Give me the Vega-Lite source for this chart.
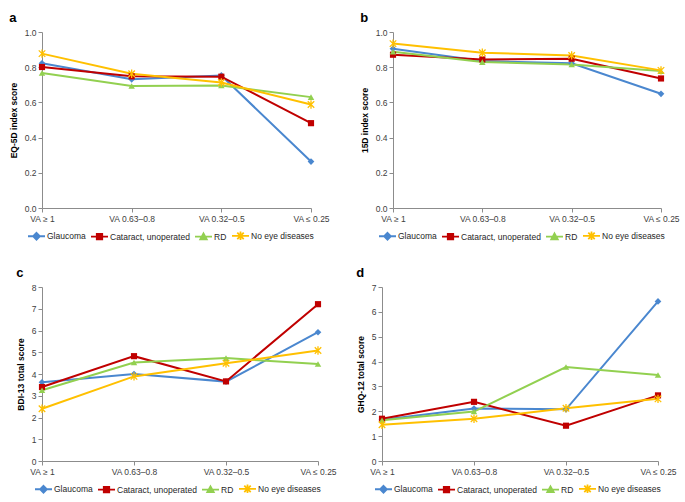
{
  "$schema": "https://vega.github.io/schema/vega-lite/v6.json",
  "padding": {"left": 9, "top": 12, "right": 3, "bottom": 5},
  "background": "white",
  "config": {
    "font": "Liberation Sans",
    "view": {"stroke": null},
    "title": {"fontSize": 13, "fontWeight": "bold", "anchor": "start", "frame": "bounds", "offset": 3, "color": "#000000"},
    "axis": {"labelFont": "Liberation Sans", "labelFontSize": 8.5, "labelColor": "#404040", "titleFont": "Liberation Sans", "titleFontSize": 8.5, "titleFontWeight": "bold", "titleColor": "#000000", "domainColor": "#8c8c8c", "tickColor": "#8c8c8c", "tickSize": 4, "grid": false, "labelPadding": 2},
    "legend": {"labelFont": "Liberation Sans", "labelFontSize": 8.5, "labelColor": "#262626", "title": null, "orient": "none", "direction": "horizontal", "columnPadding": 1, "labelOffset": 1, "symbolSize": 289}
  },
  "datasets": {
    "eq5d": [
      {"cat": "VA ≥ 1", "series": "Glaucoma", "value": 0.822},
      {"cat": "VA 0.63–0.8", "series": "Glaucoma", "value": 0.731},
      {"cat": "VA 0.32–0.5", "series": "Glaucoma", "value": 0.753},
      {"cat": "VA ≤ 0.25", "series": "Glaucoma", "value": 0.264},
      {"cat": "VA ≥ 1", "series": "Cataract, unoperated", "value": 0.801},
      {"cat": "VA 0.63–0.8", "series": "Cataract, unoperated", "value": 0.748},
      {"cat": "VA 0.32–0.5", "series": "Cataract, unoperated", "value": 0.746},
      {"cat": "VA ≤ 0.25", "series": "Cataract, unoperated", "value": 0.482},
      {"cat": "VA ≥ 1", "series": "RD", "value": 0.767},
      {"cat": "VA 0.63–0.8", "series": "RD", "value": 0.693},
      {"cat": "VA 0.32–0.5", "series": "RD", "value": 0.696},
      {"cat": "VA ≤ 0.25", "series": "RD", "value": 0.630},
      {"cat": "VA ≥ 1", "series": "No eye diseases", "value": 0.877},
      {"cat": "VA 0.63–0.8", "series": "No eye diseases", "value": 0.763},
      {"cat": "VA 0.32–0.5", "series": "No eye diseases", "value": 0.713},
      {"cat": "VA ≤ 0.25", "series": "No eye diseases", "value": 0.588}
    ],
    "d15": [
      {"cat": "VA ≥ 1", "series": "Glaucoma", "value": 0.905},
      {"cat": "VA 0.63–0.8", "series": "Glaucoma", "value": 0.835},
      {"cat": "VA 0.32–0.5", "series": "Glaucoma", "value": 0.822},
      {"cat": "VA ≤ 0.25", "series": "Glaucoma", "value": 0.649},
      {"cat": "VA ≥ 1", "series": "Cataract, unoperated", "value": 0.871},
      {"cat": "VA 0.63–0.8", "series": "Cataract, unoperated", "value": 0.844},
      {"cat": "VA 0.32–0.5", "series": "Cataract, unoperated", "value": 0.848},
      {"cat": "VA ≤ 0.25", "series": "Cataract, unoperated", "value": 0.736},
      {"cat": "VA ≥ 1", "series": "RD", "value": 0.888},
      {"cat": "VA 0.63–0.8", "series": "RD", "value": 0.829},
      {"cat": "VA 0.32–0.5", "series": "RD", "value": 0.816},
      {"cat": "VA ≤ 0.25", "series": "RD", "value": 0.778},
      {"cat": "VA ≥ 1", "series": "No eye diseases", "value": 0.934},
      {"cat": "VA 0.63–0.8", "series": "No eye diseases", "value": 0.882},
      {"cat": "VA 0.32–0.5", "series": "No eye diseases", "value": 0.867},
      {"cat": "VA ≤ 0.25", "series": "No eye diseases", "value": 0.782}
    ],
    "bdi": [
      {"cat": "VA ≥ 1", "series": "Glaucoma", "value": 3.62},
      {"cat": "VA 0.63–0.8", "series": "Glaucoma", "value": 4.0},
      {"cat": "VA 0.32–0.5", "series": "Glaucoma", "value": 3.65},
      {"cat": "VA ≤ 0.25", "series": "Glaucoma", "value": 5.92},
      {"cat": "VA ≥ 1", "series": "Cataract, unoperated", "value": 3.40},
      {"cat": "VA 0.63–0.8", "series": "Cataract, unoperated", "value": 4.82},
      {"cat": "VA 0.32–0.5", "series": "Cataract, unoperated", "value": 3.66},
      {"cat": "VA ≤ 0.25", "series": "Cataract, unoperated", "value": 7.21},
      {"cat": "VA ≥ 1", "series": "RD", "value": 3.25},
      {"cat": "VA 0.63–0.8", "series": "RD", "value": 4.53},
      {"cat": "VA 0.32–0.5", "series": "RD", "value": 4.73},
      {"cat": "VA ≤ 0.25", "series": "RD", "value": 4.46},
      {"cat": "VA ≥ 1", "series": "No eye diseases", "value": 2.40},
      {"cat": "VA 0.63–0.8", "series": "No eye diseases", "value": 3.89},
      {"cat": "VA 0.32–0.5", "series": "No eye diseases", "value": 4.49},
      {"cat": "VA ≤ 0.25", "series": "No eye diseases", "value": 5.08}
    ],
    "ghq": [
      {"cat": "VA ≥ 1", "series": "Glaucoma", "value": 1.66},
      {"cat": "VA 0.63–0.8", "series": "Glaucoma", "value": 2.11},
      {"cat": "VA 0.32–0.5", "series": "Glaucoma", "value": 2.08},
      {"cat": "VA ≤ 0.25", "series": "Glaucoma", "value": 6.42},
      {"cat": "VA ≥ 1", "series": "Cataract, unoperated", "value": 1.70},
      {"cat": "VA 0.63–0.8", "series": "Cataract, unoperated", "value": 2.38},
      {"cat": "VA 0.32–0.5", "series": "Cataract, unoperated", "value": 1.42},
      {"cat": "VA ≤ 0.25", "series": "Cataract, unoperated", "value": 2.64},
      {"cat": "VA ≥ 1", "series": "RD", "value": 1.64},
      {"cat": "VA 0.63–0.8", "series": "RD", "value": 1.99},
      {"cat": "VA 0.32–0.5", "series": "RD", "value": 3.78},
      {"cat": "VA ≤ 0.25", "series": "RD", "value": 3.46},
      {"cat": "VA ≥ 1", "series": "No eye diseases", "value": 1.46},
      {"cat": "VA 0.63–0.8", "series": "No eye diseases", "value": 1.70},
      {"cat": "VA 0.32–0.5", "series": "No eye diseases", "value": 2.12},
      {"cat": "VA ≤ 0.25", "series": "No eye diseases", "value": 2.50}
    ]
  },
  "resolve": {"scale": {"color": "independent"}, "legend": {"color": "independent"}},
  "spacing": 23,
  "vconcat": [
    {
      "spacing": 30,
      "resolve": {"scale": {"color": "independent"}, "legend": {"color": "independent"}},
      "hconcat": [
        {
          "title": "a",
          "width": 269, "height": 176,
          "data": {"name": "eq5d"},
          "encoding": {
            "x": {"field": "cat", "type": "ordinal", "sort": ["VA ≥ 1", "VA 0.63–0.8", "VA 0.32–0.5", "VA ≤ 0.25"], "scale": {"type": "point", "padding": 0}, "axis": {"title": null, "labelAngle": 0}},
            "y": {"field": "value", "type": "quantitative", "scale": {"domain": [0, 1]}, "axis": {"title": "EQ-5D index score", "values": [0, 0.2, 0.4, 0.6, 0.8, 1.0], "format": ".1f", "titlePadding": 6}}
          },
          "layer": [
            {"mark": {"type": "line", "strokeWidth": 2}, "encoding": {"color": {"field": "series", "type": "nominal", "sort": ["Glaucoma", "Cataract, unoperated", "RD", "No eye diseases"], "scale": {"domain": ["Glaucoma", "Cataract, unoperated", "RD", "No eye diseases"], "range": ["#4A87CF", "#C00000", "#92D050", "#FFC000"]}, "legend": {"legendX": -15, "legendY": 194, "encode": {"symbols": {"update": {"shape": {"signal": "datum.value==='Glaucoma'?'M-1,0L1,0M0,-0.4L0.4,0L0,0.4L-0.4,0Z':datum.value==='Cataract, unoperated'?'M-1,0L1,0M-0.32,-0.32L0.32,-0.32L0.32,0.32L-0.32,0.32Z':datum.value==='RD'?'M-1,0L1,0M0,-0.38L0.38,0.3L-0.38,0.3Z':'M-1,0L1,0M-0.38,-0.38L0.38,0.38M-0.38,0.38L0.38,-0.38M0,-0.5L0,0.5'"}, "size": {"value": 289}, "strokeWidth": {"value": 1.8}, "opacity": {"value": 1}, "fill": {"signal": "datum.value==='Glaucoma'?'#4A87CF':datum.value==='Cataract, unoperated'?'#C00000':datum.value==='RD'?'#92D050':'#FFC000'"}, "stroke": {"signal": "datum.value==='Glaucoma'?'#4A87CF':datum.value==='Cataract, unoperated'?'#C00000':datum.value==='RD'?'#92D050':'#FFC000'"}}}}}}}},
            {"transform": [{"filter": "datum.series === 'Glaucoma'"}], "mark": {"type": "point", "shape": "diamond", "filled": true, "opacity": 1, "color": "#4A87CF", "size": 45}},
            {"transform": [{"filter": "datum.series === 'Cataract, unoperated'"}], "mark": {"type": "point", "shape": "square", "filled": true, "opacity": 1, "color": "#C00000", "size": 38}},
            {"transform": [{"filter": "datum.series === 'RD'"}], "mark": {"type": "point", "shape": "triangle-up", "filled": true, "opacity": 1, "color": "#92D050", "size": 42}},
            {"transform": [{"filter": "datum.series === 'No eye diseases'"}], "mark": {"type": "point", "shape": "M-1,-1L1,1M-1,1L1,-1M0,-1.3L0,1.3", "filled": false, "opacity": 1, "stroke": "#FFC000", "strokeWidth": 1.3, "size": 42}}
          ]
        },
        {
          "title": "b",
          "width": 268, "height": 176,
          "data": {"name": "d15"},
          "encoding": {
            "x": {"field": "cat", "type": "ordinal", "sort": ["VA ≥ 1", "VA 0.63–0.8", "VA 0.32–0.5", "VA ≤ 0.25"], "scale": {"type": "point", "padding": 0}, "axis": {"title": null, "labelAngle": 0}},
            "y": {"field": "value", "type": "quantitative", "scale": {"domain": [0, 1]}, "axis": {"title": "15D index score", "values": [0, 0.2, 0.4, 0.6, 0.8, 1.0], "format": ".1f", "titlePadding": 6}}
          },
          "layer": [
            {"mark": {"type": "line", "strokeWidth": 2}, "encoding": {"color": {"field": "series", "type": "nominal", "sort": ["Glaucoma", "Cataract, unoperated", "RD", "No eye diseases"], "scale": {"domain": ["Glaucoma", "Cataract, unoperated", "RD", "No eye diseases"], "range": ["#4A87CF", "#C00000", "#92D050", "#FFC000"]}, "legend": {"legendX": -15, "legendY": 194, "encode": {"symbols": {"update": {"shape": {"signal": "datum.value==='Glaucoma'?'M-1,0L1,0M0,-0.4L0.4,0L0,0.4L-0.4,0Z':datum.value==='Cataract, unoperated'?'M-1,0L1,0M-0.32,-0.32L0.32,-0.32L0.32,0.32L-0.32,0.32Z':datum.value==='RD'?'M-1,0L1,0M0,-0.38L0.38,0.3L-0.38,0.3Z':'M-1,0L1,0M-0.38,-0.38L0.38,0.38M-0.38,0.38L0.38,-0.38M0,-0.5L0,0.5'"}, "size": {"value": 289}, "strokeWidth": {"value": 1.8}, "opacity": {"value": 1}, "fill": {"signal": "datum.value==='Glaucoma'?'#4A87CF':datum.value==='Cataract, unoperated'?'#C00000':datum.value==='RD'?'#92D050':'#FFC000'"}, "stroke": {"signal": "datum.value==='Glaucoma'?'#4A87CF':datum.value==='Cataract, unoperated'?'#C00000':datum.value==='RD'?'#92D050':'#FFC000'"}}}}}}}},
            {"transform": [{"filter": "datum.series === 'Glaucoma'"}], "mark": {"type": "point", "shape": "diamond", "filled": true, "opacity": 1, "color": "#4A87CF", "size": 45}},
            {"transform": [{"filter": "datum.series === 'Cataract, unoperated'"}], "mark": {"type": "point", "shape": "square", "filled": true, "opacity": 1, "color": "#C00000", "size": 38}},
            {"transform": [{"filter": "datum.series === 'RD'"}], "mark": {"type": "point", "shape": "triangle-up", "filled": true, "opacity": 1, "color": "#92D050", "size": 42}},
            {"transform": [{"filter": "datum.series === 'No eye diseases'"}], "mark": {"type": "point", "shape": "M-1,-1L1,1M-1,1L1,-1M0,-1.3L0,1.3", "filled": false, "opacity": 1, "stroke": "#FFC000", "strokeWidth": 1.3, "size": 42}}
          ]
        }
      ]
    },
    {
      "spacing": 19,
      "resolve": {"scale": {"color": "independent"}, "legend": {"color": "independent"}},
      "hconcat": [
        {
          "title": "c",
          "width": 276, "height": 174,
          "data": {"name": "bdi"},
          "encoding": {
            "x": {"field": "cat", "type": "ordinal", "sort": ["VA ≥ 1", "VA 0.63–0.8", "VA 0.32–0.5", "VA ≤ 0.25"], "scale": {"type": "point", "padding": 0}, "axis": {"title": null, "labelAngle": 0}},
            "y": {"field": "value", "type": "quantitative", "scale": {"domain": [0, 8]}, "axis": {"title": "BDI-13 total score", "values": [0, 1, 2, 3, 4, 5, 6, 7, 8], "titlePadding": 6}}
          },
          "layer": [
            {"mark": {"type": "line", "strokeWidth": 2}, "encoding": {"color": {"field": "series", "type": "nominal", "sort": ["Glaucoma", "Cataract, unoperated", "RD", "No eye diseases"], "scale": {"domain": ["Glaucoma", "Cataract, unoperated", "RD", "No eye diseases"], "range": ["#4A87CF", "#C00000", "#92D050", "#FFC000"]}, "legend": {"legendX": -8, "legendY": 192, "encode": {"symbols": {"update": {"shape": {"signal": "datum.value==='Glaucoma'?'M-1,0L1,0M0,-0.4L0.4,0L0,0.4L-0.4,0Z':datum.value==='Cataract, unoperated'?'M-1,0L1,0M-0.32,-0.32L0.32,-0.32L0.32,0.32L-0.32,0.32Z':datum.value==='RD'?'M-1,0L1,0M0,-0.38L0.38,0.3L-0.38,0.3Z':'M-1,0L1,0M-0.38,-0.38L0.38,0.38M-0.38,0.38L0.38,-0.38M0,-0.5L0,0.5'"}, "size": {"value": 289}, "strokeWidth": {"value": 1.8}, "opacity": {"value": 1}, "fill": {"signal": "datum.value==='Glaucoma'?'#4A87CF':datum.value==='Cataract, unoperated'?'#C00000':datum.value==='RD'?'#92D050':'#FFC000'"}, "stroke": {"signal": "datum.value==='Glaucoma'?'#4A87CF':datum.value==='Cataract, unoperated'?'#C00000':datum.value==='RD'?'#92D050':'#FFC000'"}}}}}}}},
            {"transform": [{"filter": "datum.series === 'Glaucoma'"}], "mark": {"type": "point", "shape": "diamond", "filled": true, "opacity": 1, "color": "#4A87CF", "size": 45}},
            {"transform": [{"filter": "datum.series === 'Cataract, unoperated'"}], "mark": {"type": "point", "shape": "square", "filled": true, "opacity": 1, "color": "#C00000", "size": 38}},
            {"transform": [{"filter": "datum.series === 'RD'"}], "mark": {"type": "point", "shape": "triangle-up", "filled": true, "opacity": 1, "color": "#92D050", "size": 42}},
            {"transform": [{"filter": "datum.series === 'No eye diseases'"}], "mark": {"type": "point", "shape": "M-1,-1L1,1M-1,1L1,-1M0,-1.3L0,1.3", "filled": false, "opacity": 1, "stroke": "#FFC000", "strokeWidth": 1.3, "size": 42}}
          ]
        },
        {
          "title": "d",
          "width": 276, "height": 174,
          "data": {"name": "ghq"},
          "encoding": {
            "x": {"field": "cat", "type": "ordinal", "sort": ["VA ≥ 1", "VA 0.63–0.8", "VA 0.32–0.5", "VA ≤ 0.25"], "scale": {"type": "point", "padding": 0}, "axis": {"title": null, "labelAngle": 0}},
            "y": {"field": "value", "type": "quantitative", "scale": {"domain": [0, 7]}, "axis": {"title": "GHQ-12 total score", "values": [0, 1, 2, 3, 4, 5, 6, 7], "titlePadding": 6}}
          },
          "layer": [
            {"mark": {"type": "line", "strokeWidth": 2}, "encoding": {"color": {"field": "series", "type": "nominal", "sort": ["Glaucoma", "Cataract, unoperated", "RD", "No eye diseases"], "scale": {"domain": ["Glaucoma", "Cataract, unoperated", "RD", "No eye diseases"], "range": ["#4A87CF", "#C00000", "#92D050", "#FFC000"]}, "legend": {"legendX": -8, "legendY": 192, "encode": {"symbols": {"update": {"shape": {"signal": "datum.value==='Glaucoma'?'M-1,0L1,0M0,-0.4L0.4,0L0,0.4L-0.4,0Z':datum.value==='Cataract, unoperated'?'M-1,0L1,0M-0.32,-0.32L0.32,-0.32L0.32,0.32L-0.32,0.32Z':datum.value==='RD'?'M-1,0L1,0M0,-0.38L0.38,0.3L-0.38,0.3Z':'M-1,0L1,0M-0.38,-0.38L0.38,0.38M-0.38,0.38L0.38,-0.38M0,-0.5L0,0.5'"}, "size": {"value": 289}, "strokeWidth": {"value": 1.8}, "opacity": {"value": 1}, "fill": {"signal": "datum.value==='Glaucoma'?'#4A87CF':datum.value==='Cataract, unoperated'?'#C00000':datum.value==='RD'?'#92D050':'#FFC000'"}, "stroke": {"signal": "datum.value==='Glaucoma'?'#4A87CF':datum.value==='Cataract, unoperated'?'#C00000':datum.value==='RD'?'#92D050':'#FFC000'"}}}}}}}},
            {"transform": [{"filter": "datum.series === 'Glaucoma'"}], "mark": {"type": "point", "shape": "diamond", "filled": true, "opacity": 1, "color": "#4A87CF", "size": 45}},
            {"transform": [{"filter": "datum.series === 'Cataract, unoperated'"}], "mark": {"type": "point", "shape": "square", "filled": true, "opacity": 1, "color": "#C00000", "size": 38}},
            {"transform": [{"filter": "datum.series === 'RD'"}], "mark": {"type": "point", "shape": "triangle-up", "filled": true, "opacity": 1, "color": "#92D050", "size": 42}},
            {"transform": [{"filter": "datum.series === 'No eye diseases'"}], "mark": {"type": "point", "shape": "M-1,-1L1,1M-1,1L1,-1M0,-1.3L0,1.3", "filled": false, "opacity": 1, "stroke": "#FFC000", "strokeWidth": 1.3, "size": 42}}
          ]
        }
      ]
    }
  ]
}
